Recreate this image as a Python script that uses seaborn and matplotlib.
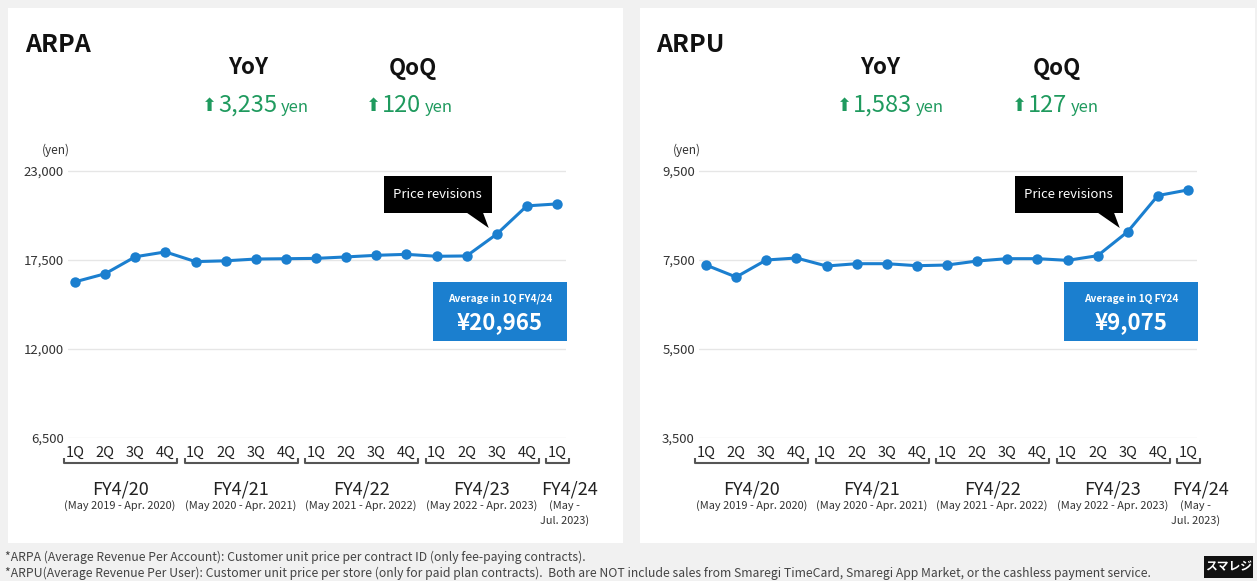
import numpy as np
import pandas as pd
import matplotlib
matplotlib.use("Agg")
import matplotlib.pyplot as plt
import matplotlib.patches as mpatches
import matplotlib.transforms as mtransforms
import seaborn as sns

# ---------------- data ----------------
quarters = ["1Q", "2Q", "3Q", "4Q"] * 4 + ["1Q"]
fiscal_years = ["FY4/20", "FY4/21", "FY4/22", "FY4/23", "FY4/24"]
fy_periods = ["(May 2019 - Apr. 2020)", "(May 2020 - Apr. 2021)",
              "(May 2021 - Apr. 2022)", "(May 2022 - Apr. 2023)", "(May -\nJul. 2023)"]
fy_sizes = [4, 4, 4, 4, 1]

arpa = [16150, 16650, 17700, 18000, 17400, 17450, 17560, 17580, 17600,
        17690, 17790, 17850, 17730, 17750, 19100, 20845, 20965]
arpu = [7387, 7117, 7500, 7545, 7365, 7417, 7417, 7372, 7387,
        7477, 7530, 7530, 7492, 7597, 8137, 8948, 9075]
arpa_ticks = [6500, 12000, 17500, 23000]
arpu_ticks = [3500, 5500, 7500, 9500]

arpa_yoy, arpa_qoq = "3,235", "120"
arpu_yoy, arpu_qoq = "1,583", "127"
arpa_box_title, arpa_box_value = "Average in 1Q FY4/24", "¥20,965"
arpu_box_title, arpu_box_value = "Average in 1Q FY24", "¥9,075"

footnotes = [
    "*ARPA (Average Revenue Per Account): Customer unit price per contract ID (only fee-paying contracts).",
    "*ARPU(Average Revenue Per User): Customer unit price per store (only for paid plan contracts).  "
    "Both are NOT include sales from Smaregi TimeCard, Smaregi App Market, or the cashless payment service.",
]

# ---------------- style ----------------
sns.set_theme(style="white")
FONT = ["Noto Sans CJK JP", "DejaVu Sans"]
plt.rcParams["font.family"] = FONT

BLUE = "#1b7fcf"
GREEN = "#1f9a5e"
BG = "#f1f1f1"
W, H = 1257, 581

fig = plt.figure(figsize=(W / 100, H / 100), dpi=100, facecolor=BG)
renderer = fig.canvas.get_renderer()


def fx(px):
    return px / W


def fy(py):
    return 1 - py / H


def rect(x0, y0, x1, y1, color, z=0):
    fig.patches.append(mpatches.Rectangle((fx(x0), fy(y1)), (x1 - x0) / W, (y1 - y0) / H,
                                          transform=fig.transFigure, facecolor=color,
                                          edgecolor="none", zorder=z))


def ftext(x, y, s, **kw):
    return fig.text(fx(x), fy(y), s, **kw)


# white panels (behind axes)
rect(8, 8, 623, 543, "white", z=-5)
rect(640, 8, 1255, 543, "white", z=-5)

STEP = 30.125
Y_BOT, Y_TOP = 438, 171


def panel(title, values, ticks, x0px, yoy, qoq, hdr, box_title, box_value):
    left_px, right_px, top_px = x0px - 7, x0px + 16 * STEP + 9, 160
    per_px = (ticks[-1] - ticks[0]) / (Y_BOT - Y_TOP)
    ax = fig.add_axes([fx(left_px), fy(Y_BOT), (right_px - left_px) / W, (Y_BOT - top_px) / H])
    ax.set_facecolor("none")
    df = pd.DataFrame({"idx": np.arange(len(values)), "value": values})
    sns.lineplot(data=df, x="idx", y="value", ax=ax, color=BLUE, linewidth=2.2,
                 marker="o", markersize=7.5, markeredgewidth=0, zorder=5)
    ax.set_xlim((left_px - x0px) / STEP, (right_px - x0px) / STEP)
    ax.set_ylim(ticks[0], ticks[-1] + (Y_TOP - top_px) * per_px)
    ax.set_yticks(ticks)
    ax.set_yticklabels([f"{t:,}" for t in ticks], fontsize=9.5, color="#333333")
    ax.set_xticks(range(len(quarters)))
    ax.set_xticklabels(quarters, fontsize=10.5, color="#222222")
    ax.tick_params(axis="both", length=0)
    ax.tick_params(axis="y", pad=3)
    ax.tick_params(axis="x", pad=5.5)
    ax.grid(axis="y", color="#e6e6e6", linewidth=1)
    ax.grid(axis="x", visible=False)
    for s in ax.spines.values():
        s.set_visible(False)
    ax.set_xlabel("")
    ax.set_ylabel("")

    # brackets & fiscal-year labels
    tr = mtransforms.blended_transform_factory(ax.transData, fig.transFigure)
    start = 0
    for k, (fyl, per, n) in enumerate(zip(fiscal_years, fy_periods, fy_sizes)):
        a, b = start - 11 / STEP, start + n - 1 + 12 / STEP
        ax.plot([a, a, b, b], [fy(458), fy(463), fy(463), fy(458)], color="#555555",
                linewidth=1.5, transform=tr, clip_on=False, solid_capstyle="butt")
        c = start + (n - 1) / 2
        off = 0.4 if n == 1 else 0
        off2 = 0.25 if n == 1 else 0
        ax.text(c + off, fy(489), fyl, transform=tr, ha="center", va="center",
                fontsize=13, color="#222222")
        ax.text(c + off2, fy(500), per, transform=tr, ha="center", va="top",
                fontsize=7.9, color="#333333", linespacing=1.5)
        start += n

    # header
    ftext(x0px - 50, 45, title, fontsize=18, fontweight="bold", color="#111111",
          ha="left", va="center")
    ftext(x0px + hdr[0], 68, "YoY", fontsize=16, fontweight="bold", color="#111111",
          ha="center", va="center")
    ftext(x0px + hdr[1], 68, "QoQ", fontsize=16, fontweight="bold", color="#111111",
          ha="center", va="center")
    for endx, val in ((hdr[2], yoy), (hdr[3], qoq)):
        t = ftext(x0px + endx, 112, val, fontsize=17, color=GREEN,
                  ha="right", va="baseline")
        bb = t.get_window_extent(renderer=renderer)
        ftext(bb.x0 - 1, 111, "⬆", fontsize=13, color=GREEN,
              ha="right", va="baseline", family=["DejaVu Sans"])
        ftext(x0px + endx + 4, 112, "yen", fontsize=12, color=GREEN,
              ha="left", va="baseline")
    ftext(x0px - 19, 150, "(yen)", fontsize=8.5, color="#333333", ha="center", va="center")

    # price revision callout (anchored near 15th point)
    ax_px = x0px + 14 * STEP
    bx1 = ax_px - 5
    bx0 = bx1 - 108
    rect(bx0, 176, bx1, 213, "black", z=3)
    fig.patches.append(mpatches.Polygon(
        [(fx(bx1 - 26), fy(212)), (fx(bx1 - 9), fy(212)), (fx(bx1 - 3), fy(228))],
        closed=True, transform=fig.transFigure, facecolor="black", edgecolor="none", zorder=3))
    ftext((bx0 + bx1) / 2, 195, "Price revisions", fontsize=9.5, color="white",
          ha="center", va="center", zorder=4)

    # average box (anchored to last point)
    last_px = x0px + 16 * STEP
    rect(last_px - 124, 282, last_px + 10, 341, BLUE, z=3)
    ftext(last_px - 57, 299, box_title, fontsize=7.3, fontweight="bold", color="white",
          ha="center", va="center", zorder=4)
    ftext(last_px - 57, 323, box_value, fontsize=16, fontweight="bold", color="white",
          ha="center", va="center", zorder=4)
    return ax


panel("ARPA", arpa, arpa_ticks, 75, arpa_yoy, arpa_qoq,
      (173, 338, 202, 346), arpa_box_title, arpa_box_value)
panel("ARPU", arpu, arpu_ticks, 706, arpu_yoy, arpu_qoq,
      (174, 351, 206, 361), arpu_box_title, arpu_box_value)

# footnotes
ftext(5, 557, footnotes[0], fontsize=8.8, color="#444444", ha="left", va="center")
ftext(5, 573, footnotes[1], fontsize=8.8, color="#444444", ha="left", va="center")

# logo
rect(1204, 556, 1253, 578, "#111111", z=3)
ftext(1228.5, 567, "スマレジ", fontsize=8.5, fontweight="bold", color="white",
      ha="center", va="center", zorder=4)

fig.savefig("out.png", dpi=100, facecolor=BG)
